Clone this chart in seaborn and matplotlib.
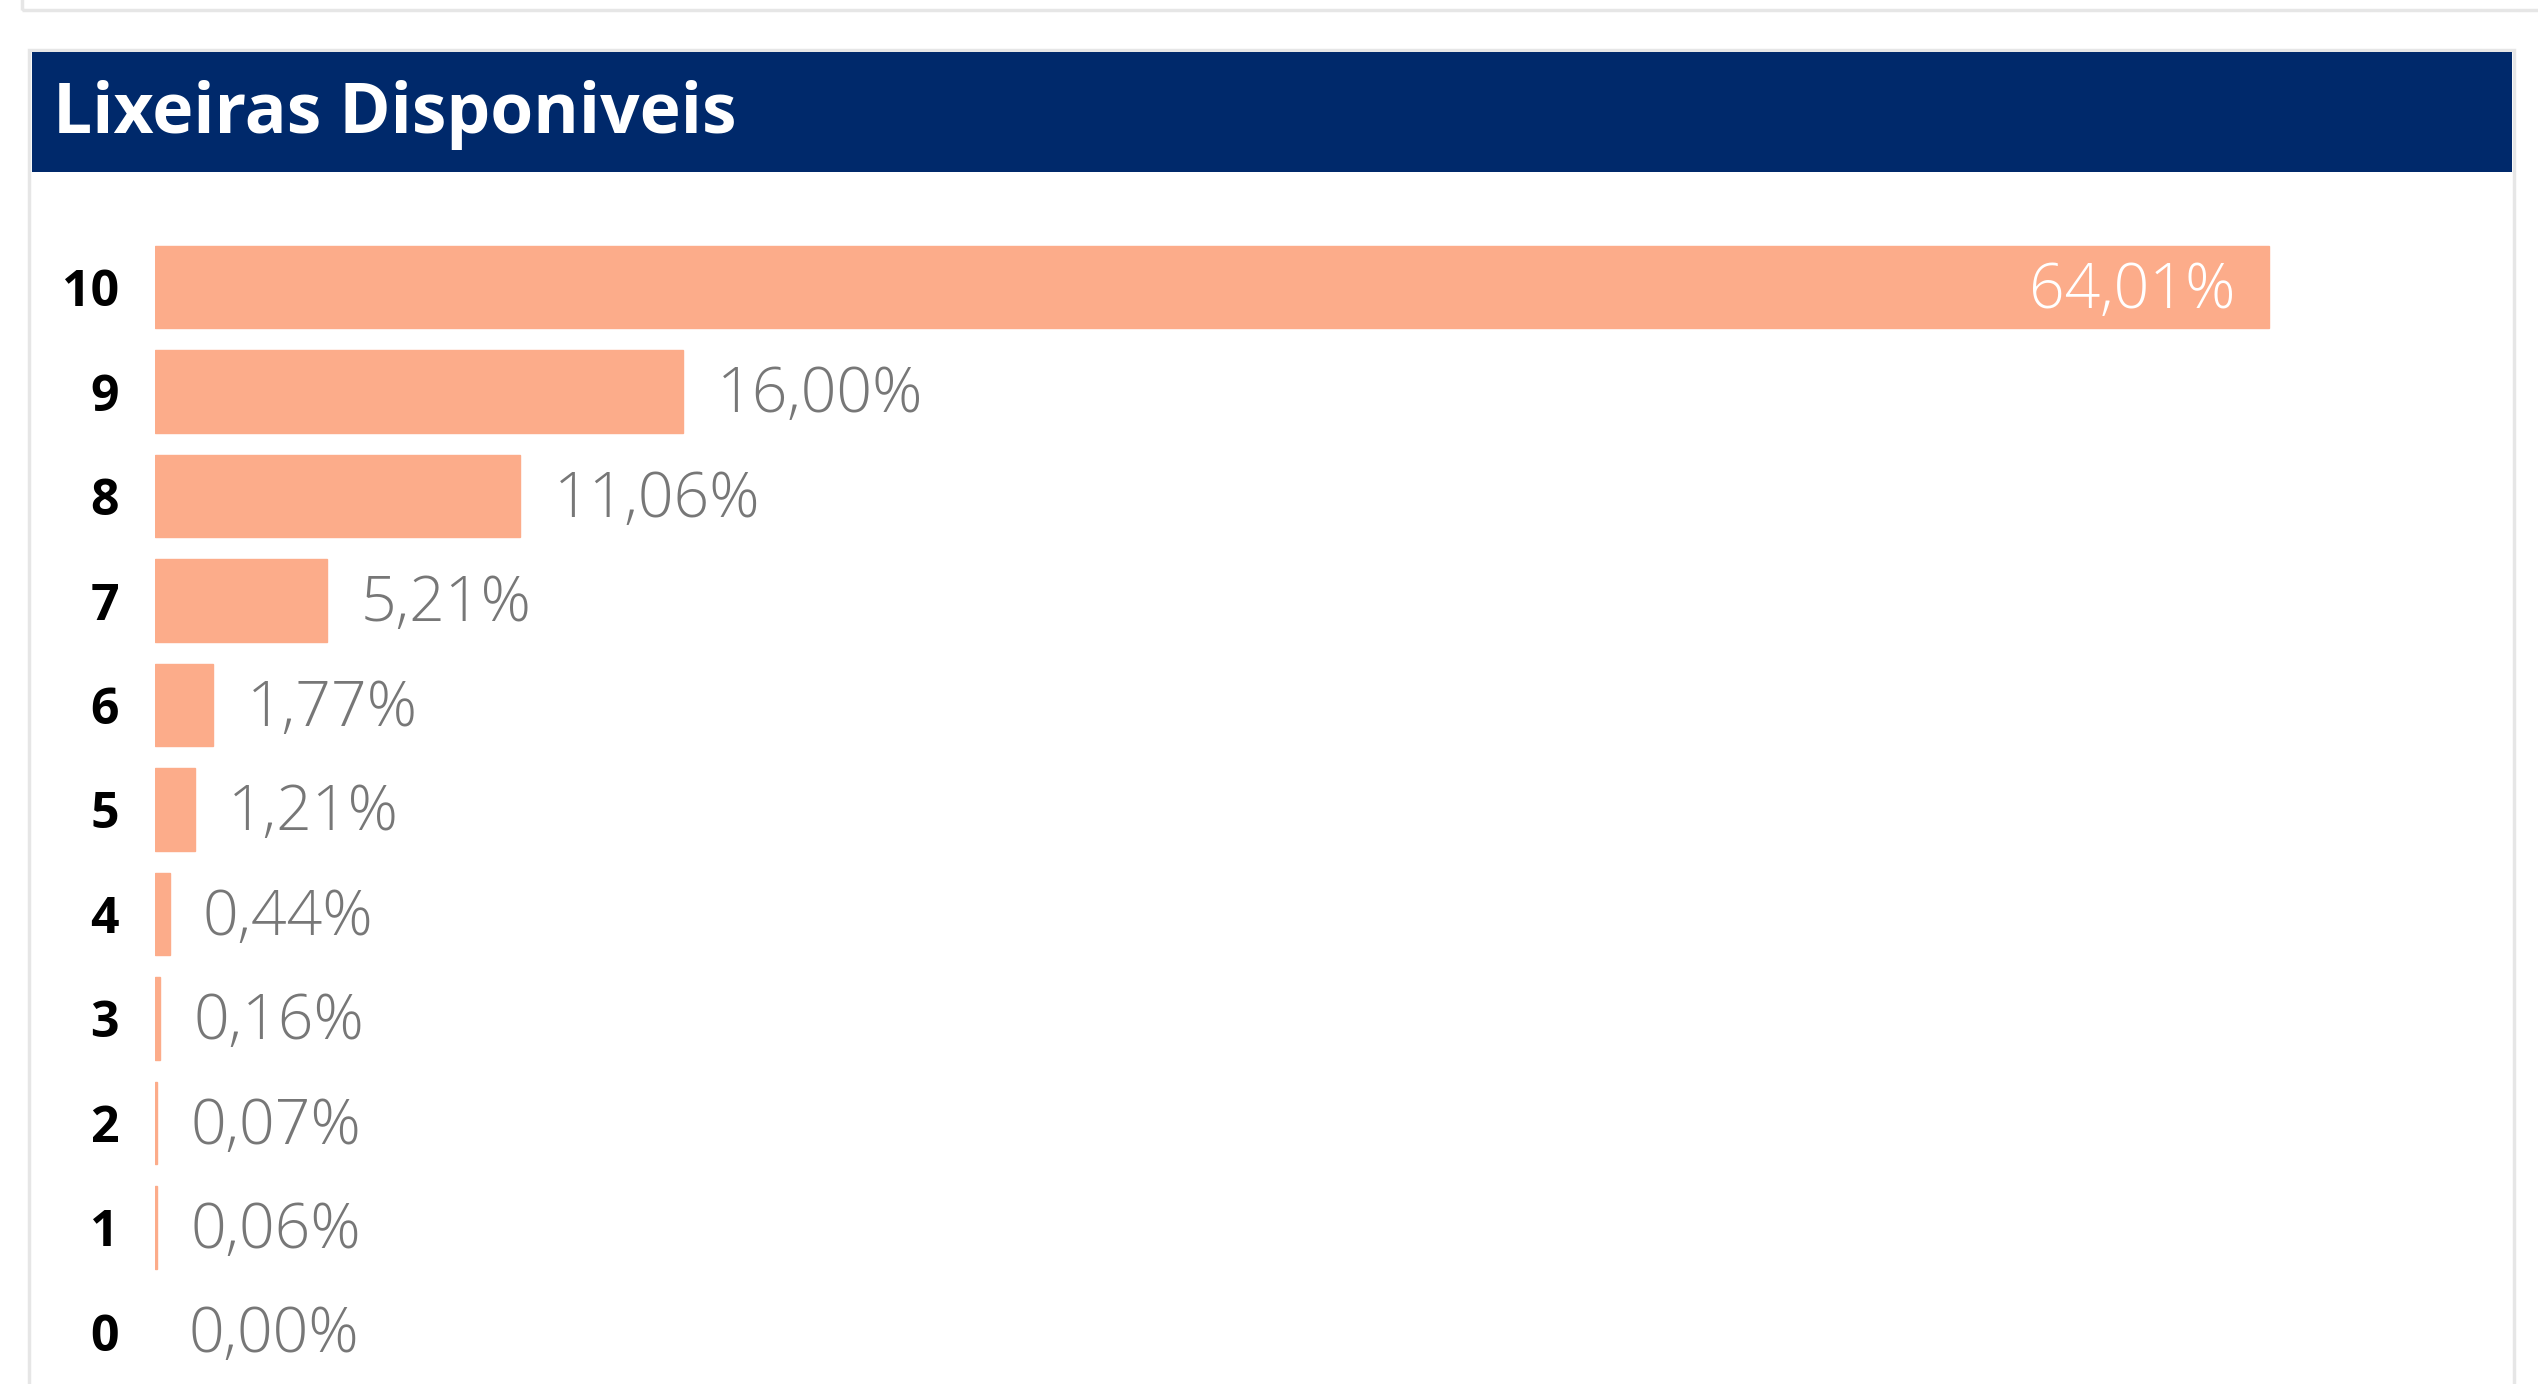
import matplotlib
matplotlib.use('Agg')
import matplotlib.pyplot as plt
from matplotlib.patches import Rectangle
import seaborn as sns

# data
categorias = ['10', '9', '8', '7', '6', '5', '4', '3', '2', '1', '0']
percentuais = [64.01, 16.00, 11.06, 5.21, 1.77, 1.21, 0.44, 0.16, 0.07, 0.06, 0.00]
titulo = 'Lixeiras Disponiveis'

cor_barra = '#FCAC8A'
cor_header = '#00296B'
cor_borda = '#E6E6E6'

W, H = 2538, 1384
sns.set_style('white')
plt.rcParams['font.family'] = ['Open Sans', 'DejaVu Sans']

fig = plt.figure(figsize=(W / 100, H / 100), dpi=100)

def px(x, y, w, h):
	# pixel box (top-left origin) -> figure fraction
	return (x / W, 1 - (y + h) / H, w / W, h / H)

# top panel remnant
fig.patches.append(Rectangle(px(22, -10, W, 20)[:2], *px(22, -10, W, 20)[2:],
	transform=fig.transFigure, fill=False, edgecolor=cor_borda, lw=2.5))
# main panel border
fig.patches.append(Rectangle(px(29, 50, 2485, 1400)[:2], *px(29, 50, 2485, 1400)[2:],
	transform=fig.transFigure, fill=False, edgecolor=cor_borda, lw=2.5))
# header
fig.patches.append(Rectangle(px(32, 52, 2480, 120)[:2], *px(32, 52, 2480, 120)[2:],
	transform=fig.transFigure, facecolor=cor_header, edgecolor='none'))
fig.text(53 / W, 1 - 133 / H, titulo, color='white', fontsize=50, fontweight='bold',
	ha='left', va='baseline')

ax = fig.add_axes(px(155, 235, 2325, 1149))
sns.barplot(x=percentuais, y=categorias, order=categorias, orient='h', color=cor_barra,
	saturation=1, width=0.79, edgecolor=cor_barra, linewidth=1, ax=ax)
for p in ax.patches:
	if p.get_width() == 0:
		p.set_linewidth(0)
ax.set_xlim(0, 2325 / 33.03)
ax.set_ylim(len(categorias) - 0.5, -0.5)
ax.set(xlabel='', ylabel='', xticks=[])
sns.despine(ax=ax, left=True, bottom=True)
ax.tick_params(axis='y', length=0, pad=26, labelsize=36)
for t in ax.get_yticklabels():
	t.set_fontweight('bold')
	t.set_color('black')

vmax = max(percentuais)
for i, v in enumerate(percentuais):
	txt = f'{v:.2f}'.replace('.', ',') + '%'
	if v == vmax:
		ax.annotate(txt, xy=(v, i), xytext=(-24, -3), textcoords='offset points',
			ha='right', va='center', color='white', fontsize=45, fontweight='light')
	else:
		ax.annotate(txt, xy=(v, i), xytext=(24, -3), textcoords='offset points',
			ha='left', va='center', color='#777777', fontsize=45, fontweight='light')

fig.savefig('out.png', dpi=100)
